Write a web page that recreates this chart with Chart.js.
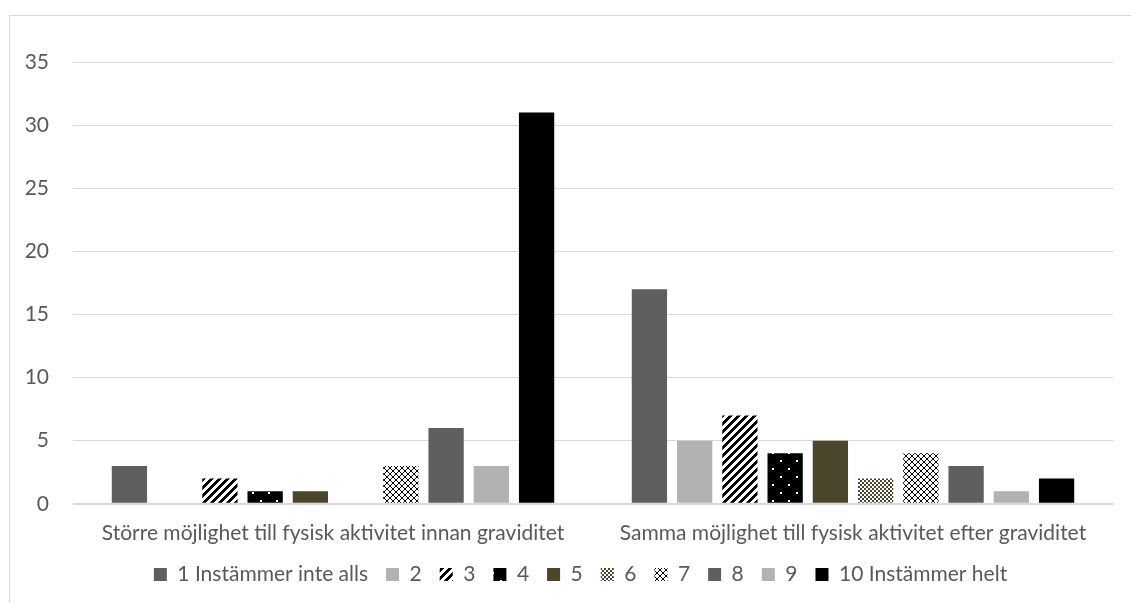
<!DOCTYPE html>
<html>
<head>
<meta charset="utf-8">
<script src="https://cdn.jsdelivr.net/npm/chart.js@4/dist/chart.umd.min.js"></script>
<style>
  html, body { margin: 0; padding: 0; background: #fff; overflow: hidden; }
  #frame {
    position: absolute; left: 9px; top: 15px; width: 1140px; height: 600px;
    border: 1px solid #d9d9d9;
  }
  #wrap { position: absolute; left: 0; top: 0; width: 1131px; height: 603px; }
</style>
</head>
<body>
<div id="frame"></div>
<div id="wrap"><canvas id="chart"></canvas></div>
<script>
// categories and answers (1..10) per category
const categories = [
  'Större möjlighet till fysisk aktivitet innan graviditet',
  'Samma möjlighet till fysisk aktivitet efter graviditet',
];
const seriesNames = ['1 Instämmer inte alls', '2', '3', '4', '5', '6', '7', '8', '9', '10 Instämmer helt'];
const s1  = [3, 17];
const s2  = [0, 5];
const s3  = [2, 7];
const s4  = [1, 4];
const s5  = [1, 5];
const s6  = [0, 2];
const s7  = [3, 4];
const s8  = [6, 3];
const s9  = [3, 1];
const s10 = [31, 2];
const yTicks = [0, 5, 10, 15, 20, 25, 30, 35];

const GRAY = '#5f5f5f';
const LIGHT = '#b2b2b2';
const OLIVE = '#4b452c';
const TEXT = '#595959';

function tile(w, h, draw) {
  const c = document.createElement('canvas');
  c.width = w; c.height = h;
  const g = c.getContext('2d');
  draw(g);
  return document.getElementById('chart').getContext('2d').createPattern(c, 'repeat');
}

// wide upward diagonal stripes
const stripes = tile(8, 8, g => {
  g.fillStyle = '#fff'; g.fillRect(0, 0, 8, 8);
  g.fillStyle = '#000';
  for (let y = 0; y < 8; y++) {
    for (let x = 0; x < 8; x++) {
      if (((x + y) % 8) < 4) g.fillRect(x, y, 1, 1);
    }
  }
});
// black with small white dots
const dots = tile(16, 16, g => {
  g.fillStyle = '#000'; g.fillRect(0, 0, 16, 16);
  g.fillStyle = '#fff';
  g.fillRect(4, 4, 2, 2);
  g.fillRect(12, 12, 2, 2);
});
// small olive checker
const checker = tile(4, 4, g => {
  g.fillStyle = '#fff'; g.fillRect(0, 0, 4, 4);
  g.fillStyle = OLIVE;
  g.fillRect(0, 0, 2, 2); g.fillRect(2, 2, 2, 2);
});
// diamond lattice
const lattice = tile(6, 6, g => {
  g.fillStyle = '#fff'; g.fillRect(0, 0, 6, 6);
  g.fillStyle = '#000';
  for (let i = 0; i < 6; i++) {
    g.fillRect(i, i, 1, 1);
    g.fillRect(5 - i, i, 1, 1);
  }
  g.fillRect(2, 2, 2, 2);
});

const values = [s1, s2, s3, s4, s5, s6, s7, s8, s9, s10];
const fills = [GRAY, LIGHT, stripes, dots, OLIVE, checker, lattice, GRAY, LIGHT, '#000'];

const datasets = values.map((v, i) => ({
  label: seriesNames[i],
  data: v,
  backgroundColor: fills[i],
  borderWidth: 0,
  categoryPercentage: 0.87,
  barPercentage: 0.78,
}));

const FONT = { family: 'Lato, "Open Sans", sans-serif', size: 21 };

// legend sits centred on the outer frame, a bit right of the plot centre
const shiftLegend = {
  id: 'shiftLegend',
  afterLayout(chart) {
    if (chart.legend) { chart.legend.left += 24; chart.legend.right += 24; }
  },
};

new Chart(document.getElementById('chart'), {
  type: 'bar',
  data: { labels: categories, datasets },
  plugins: [shiftLegend],
  options: {
    responsive: true,
    maintainAspectRatio: false,
    animation: false,
    layout: { padding: { top: 62, right: 18, bottom: 8, left: 0 } },
    plugins: {
      legend: {
        position: 'bottom',
        labels: {
          color: TEXT, font: FONT,
          boxWidth: 13, boxHeight: 13, padding: 18,
        },
      },
      tooltip: { enabled: false },
    },
    scales: {
      x: {
        grid: { display: false },
        border: { display: false },
        ticks: { color: TEXT, font: FONT, padding: 9, maxRotation: 0 },
        afterFit: s => { s.height = s.height - 9; },
      },
      y: {
        min: 0, max: 35,
        afterBuildTicks: s => { s.ticks = yTicks.map(v => ({ value: v })); },
        afterFit: s => { s.width = 73; },
        grid: {
          color: '#d9d9d9', lineWidth: ctx => ctx.tick && ctx.tick.value === 0 ? 2 : 1,
          drawTicks: false,
        },
        border: { display: false },
        ticks: { color: TEXT, font: FONT, padding: 24 },
      },
    },
  },
});
</script>
</body>
</html>
